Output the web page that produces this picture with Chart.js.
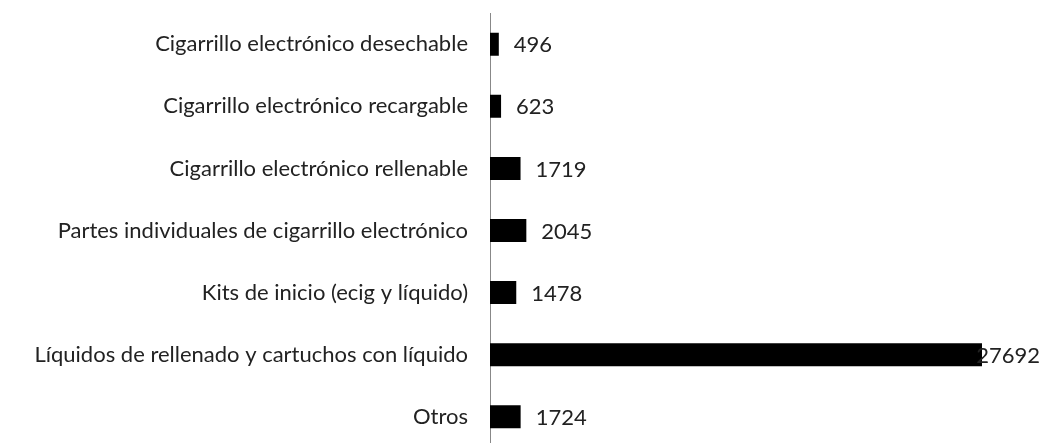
<!DOCTYPE html>
<html>
<head>
<meta charset="utf-8">
<script src="https://cdn.jsdelivr.net/npm/chart.js@4/dist/chart.umd.min.js"></script>
<style>
  html, body { margin: 0; padding: 0; background: #fff; overflow: hidden; }
  #wrap { position: relative; top: -22px; width: 1046px; height: 505px; }
</style>
</head>
<body>
<div id="wrap"><canvas id="grafico"></canvas></div>
<script>
const categorias = [
  'Cigarrillo electrónico desechable',
  'Cigarrillo electrónico recargable',
  'Cigarrillo electrónico rellenable',
  'Partes individuales de cigarrillo electrónico',
  'Kits de inicio (ecig y líquido)',
  'Líquidos de rellenado y cartuchos con líquido',
  'Otros'
];
const valores = [496, 623, 1719, 2045, 1478, 27692, 1724];

// etiquetas de valor al final de cada barra
const etiquetas = {
  id: 'etiquetas',
  afterDatasetsDraw(chart) {
    const ctx = chart.ctx;
    const meta = chart.getDatasetMeta(0);
    ctx.save();
    ctx.font = '22px Lato';
    ctx.fillStyle = '#222';
    ctx.textBaseline = 'middle';
    meta.data.forEach((bar, i) => {
      const txt = String(valores[i]);
      const w = ctx.measureText(txt).width;
      let x = bar.x + 15;
      if (x + w > chart.width - 6) x = chart.width - 6 - w;
      ctx.fillText(txt, x, bar.y + 1);
    });
    ctx.restore();
  }
};

const grafico = document.getElementById('grafico').getContext('2d');
const myChart = new Chart(grafico, {
  type: 'bar',
  data: {
    labels: categorias,
    datasets: [{
      data: valores,
      backgroundColor: '#000',
      borderWidth: 0,
      barPercentage: 0.37,
      categoryPercentage: 1
    }]
  },
  options: {
    indexAxis: 'y',
    responsive: true,
    maintainAspectRatio: false,
    animation: false,
    layout: { padding: { top: 13, right: 23, bottom: 0, left: 0 } },
    plugins: {
      legend: { display: false },
      tooltip: { enabled: false }
    },
    scales: {
      x: {
        min: 0,
        max: 30000,
        display: false
      },
      y: {
        grid: { display: false, drawTicks: false },
        border: { color: '#888', width: 1 },
        ticks: {
          padding: 22,
          color: '#222',
          font: { family: 'Lato', size: 22 }
        },
        afterFit(scale) { scale.width = 490; }
      }
    }
  },
  plugins: [etiquetas]
});
</script>
</body>
</html>
